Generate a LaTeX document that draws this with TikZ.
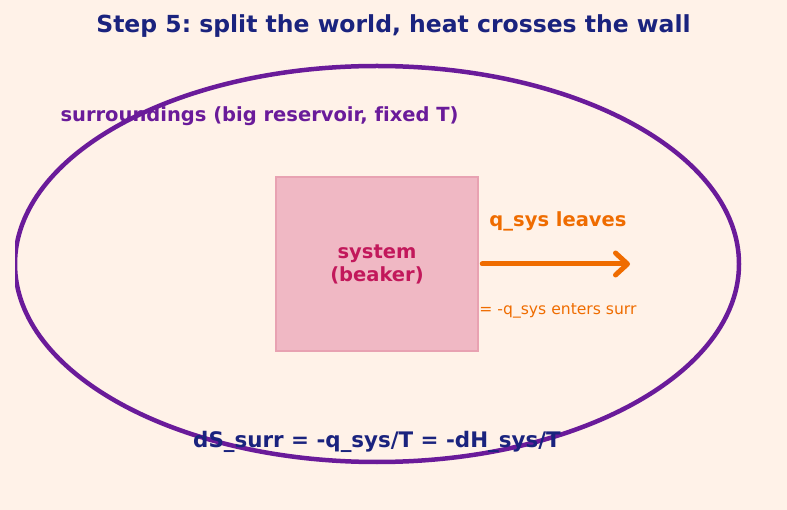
\documentclass[tikz,border=0pt]{standalone}
\usepackage{fontspec}
\setmainfont[Ligatures=NoCommon]{DejaVu Sans}
\usetikzlibrary{arrows.meta,positioning}
\definecolor{pagebg}{HTML}{FFF2E8}
\definecolor{titlenavy}{HTML}{1A237E}
\definecolor{wallpurple}{HTML}{6A1B9A}
\definecolor{beakerfill}{HTML}{F0B8C4}
\definecolor{beakeredge}{HTML}{E8A2B2}
\definecolor{beakertext}{HTML}{C2185B}
\definecolor{heatorange}{HTML}{EF6C00}
\frenchspacing

\begin{document}
\begin{tikzpicture}[
  x=1pt, y=-1pt,
  bigfont/.style={font=\fontsize{23.5}{27}\selectfont\bfseries},
  lblfont/.style={font=\fontsize{19.5}{23}\selectfont\bfseries},
  beaker/.style={draw=beakeredge, line width=2.5pt, fill=beakerfill,
    minimum width=202pt, minimum height=174pt, inner sep=0pt,
    align=center, text=beakertext, lblfont},
  heatflow/.style={-{Straight Barb[length=12pt, width=22pt, round]},
    line width=5pt, draw=heatorange, line cap=round},
]
  \fill[pagebg] (0,0) rectangle (787,510);
  \useasboundingbox (0,0) rectangle (787,510);

  \node[bigfont, text=titlenavy] (title) at (393.5,26.5)
    {Step 5: split the world, heat crosses the wall};

  % the wall between system and surroundings
  \begin{scope}
    \clip (15,0) rectangle (787,510);
    \draw[wallpurple, line width=4.5pt] (377,264) ellipse [x radius=362, y radius=198];
  \end{scope}

  \node[lblfont, text=wallpurple, anchor=west] (surr) at (57,116.5)
    {surroundings (big reservoir, fixed T)};

  \node[beaker] (sys) at (377,264) {system\\(beaker)};

  \coordinate (heatend) at (630,264);
  \draw[heatflow] ([xshift=3pt]sys.east) -- (heatend);

  \node[lblfont, text=heatorange] (leaves) at (558,221.5) {q\_sys leaves};
  \node[font=\fontsize{15.6}{18}\selectfont, text=heatorange] (enters) at (558,310.5)
    {= -q\_sys enters surr};

  \node[font=\fontsize{21.4}{25}\selectfont\bfseries, text=titlenavy] (dsurr) at (377,441.5)
    {dS\_surr = -q\_sys/T = -dH\_sys/T};
\end{tikzpicture}
\end{document}
